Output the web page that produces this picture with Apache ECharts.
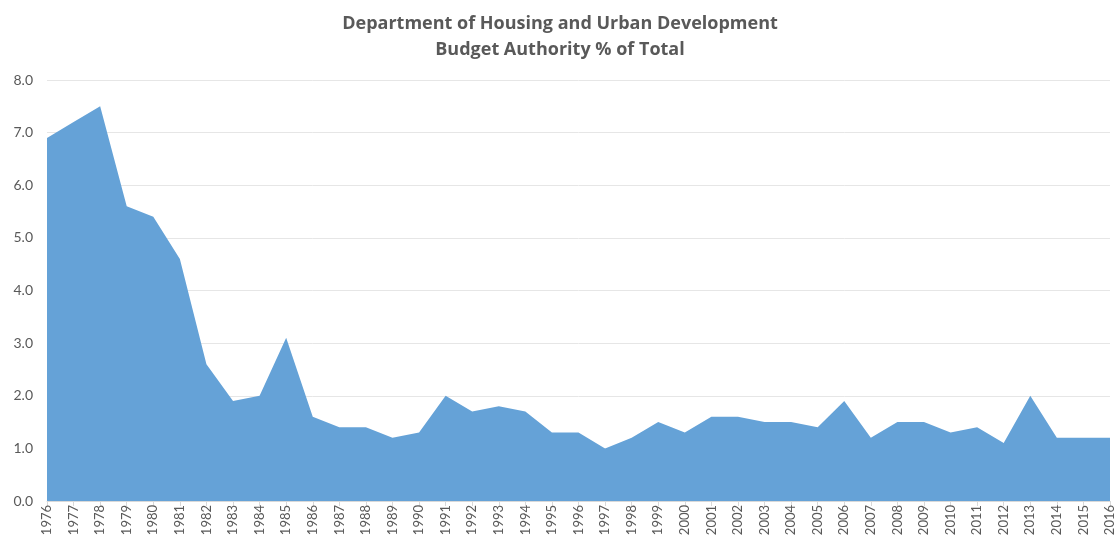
<!DOCTYPE html>
<html>
<head>
<meta charset="utf-8">
<script src="https://cdn.jsdelivr.net/npm/echarts@6/dist/echarts.min.js"></script>
<style>
  html, body { margin: 0; padding: 0; background: #fff; }
  #main { width: 1120px; height: 548px; }
</style>
</head>
<body>
<div id="main"></div>
<script>
var years = [];
for (var y = 1976; y <= 2016; y++) years.push(String(y));

var sharePct = [
  6.9, 7.2, 7.5, 5.6, 5.4, 4.6, 2.6, 1.9, 2.0, 3.1,
  1.6, 1.4, 1.4, 1.2, 1.3, 2.0, 1.7, 1.8, 1.7, 1.3,
  1.3, 1.0, 1.2, 1.5, 1.3, 1.6, 1.6, 1.5, 1.5, 1.4,
  1.9, 1.2, 1.5, 1.5, 1.3, 1.4, 1.1, 2.0, 1.2, 1.2,
  1.2
];

var chartDom = document.getElementById('main');
var myChart = echarts.init(chartDom);
var option;

option = {
  animation: false,
  title: {
    text: 'Department of Housing and Urban Development\nBudget Authority % of Total',
    left: 'center',
    top: 6,
    textStyle: {
      fontFamily: 'Open Sans',
      fontSize: 18,
      fontWeight: 'bold',
      color: '#595959',
      lineHeight: 26
    }
  },
  grid: { left: 47, right: 10, top: 80, bottom: 47 },
  xAxis: {
    type: 'category',
    data: years,
    boundaryGap: false,
    axisLine: { lineStyle: { color: '#d9d9d9' } },
    axisTick: { show: true, interval: 0, length: 5, lineStyle: { color: '#d9d9d9' } },
    axisLabel: {
      interval: 0,
      rotate: 90,
      fontFamily: 'Lato',
      fontSize: 13,
      color: '#595959',
      margin: 4
    }
  },
  yAxis: {
    type: 'value',
    min: 0,
    max: 8,
    interval: 1,
    axisLine: { show: false },
    axisTick: { show: false },
    axisLabel: {
      fontFamily: 'Lato',
      fontSize: 14,
      color: '#595959',
      margin: 14,
      formatter: function (v) { return v.toFixed(1); }
    },
    splitLine: { lineStyle: { color: '#e6e6e6' } }
  },
  series: [
    {
      type: 'line',
      data: sharePct,
      showSymbol: false,
      lineStyle: { width: 0, color: '#65a2d7' },
      itemStyle: { color: '#65a2d7' },
      areaStyle: { color: '#65a2d7', opacity: 1 }
    }
  ]
};

if (chartDom && myChart) {
  myChart.setOption(option);
} else {
  console.error('Failed to initialize the chart');
}
</script>
</body>
</html>
